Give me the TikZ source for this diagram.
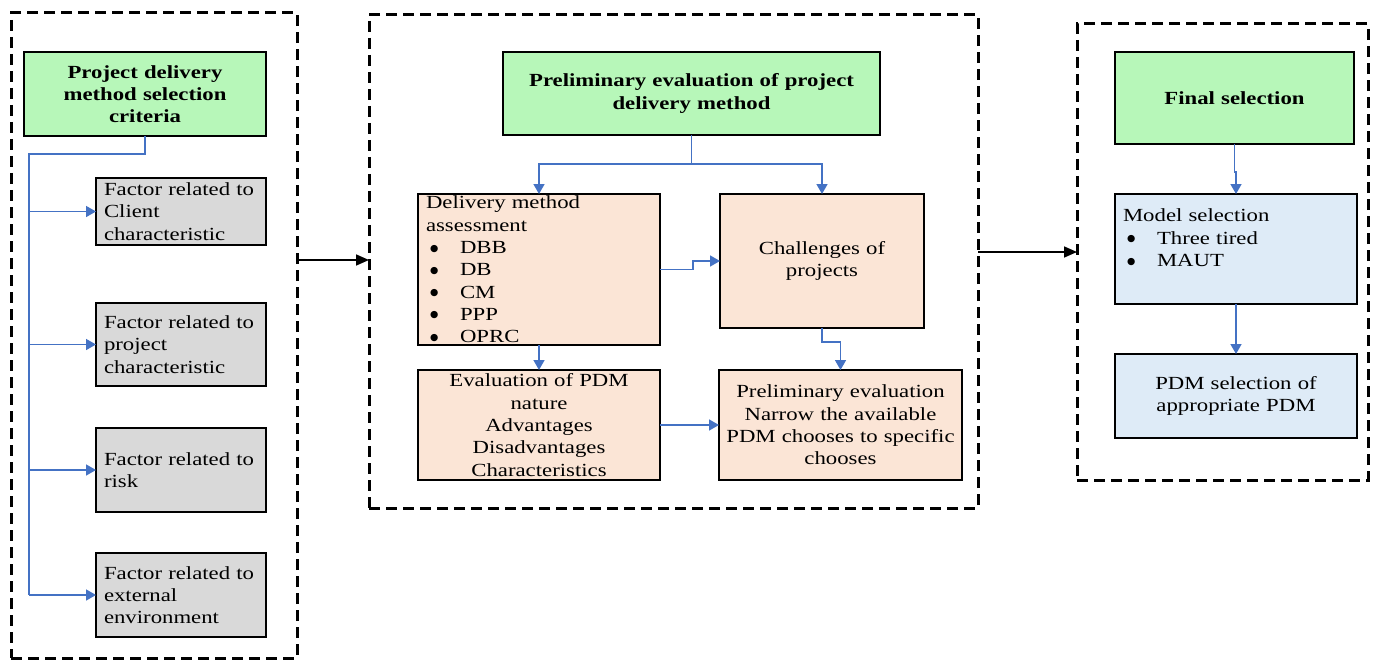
\documentclass[tikz,border=0pt]{standalone}
\usepackage{fontspec}
\setmainfont[FakeStretch=1.23]{Liberation Serif}
\newfontfamily\dotfont{DejaVu Sans}
\usetikzlibrary{arrows.meta}

\definecolor{boxgreen}{HTML}{B7F7B9}
\definecolor{boxgrey}{HTML}{D9D9D9}
\definecolor{boxpeach}{HTML}{FBE5D6}
\definecolor{boxblue}{HTML}{DEEBF7}
\definecolor{linkblue}{HTML}{4472C4}

\newcommand\diagfont{\fontsize{18.5bp}{22.3bp}\selectfont}
\newcommand\pdmbullet{\makebox[34bp][l]{\hspace{4bp}\raisebox{2.5bp}{\dotfont\fontsize{9.5bp}{9.5bp}\selectfont ●}}}

\tikzset{
  frame/.style={draw=black, line width=3bp, dash pattern=on 11bp off 6bp,
    inner sep=0pt, outer sep=0pt, anchor=north west},
  basebox/.style={draw=black, line width=1.8bp, inner ysep=0pt, inner xsep=8bp,
    outer sep=0pt, anchor=north west, font=\diagfont},
  headbox/.style={basebox, fill=boxgreen, align=center, font=\diagfont\bfseries},
  factorbox/.style={basebox, fill=boxgrey, align=left},
  stagebox/.style={basebox, fill=boxpeach},
  modelbox/.style={basebox, fill=boxblue},
  link/.style={draw=linkblue, line width=1.6bp},
  linkarrow/.style={link, -{Triangle[length=10bp,width=11bp]}},
  phasearrow/.style={draw=black, line width=1.6bp, -{Triangle[length=13bp,width=11bp]}}
}

\begin{document}
\begin{tikzpicture}[x=1bp,y=-1bp]
\useasboundingbox (0,0) rectangle (1376,660);

% three dashed phase frames
\node[frame, minimum width=286bp, minimum height=645bp] (f1) at (11,13) {};
\node[frame, minimum width=609bp, minimum height=493bp] (f2) at (369,15) {};
\node[frame, minimum width=291bp, minimum height=456bp] (f3) at (1077,24) {};

% phase 1: selection criteria
\node[headbox, minimum width=242bp, minimum height=84bp, text width=226bp] (g1) at (24,52)
  {Project delivery\\method selection\\criteria};
\node[factorbox, minimum width=170bp, minimum height=67bp, text width=154bp] (c1) at (96,178)
  {Factor related to\\Client\\characteristic};
\node[factorbox, minimum width=170bp, minimum height=83bp, text width=154bp] (c2) at (96,303)
  {Factor related to\\project\\characteristic};
\node[factorbox, minimum width=170bp, minimum height=84bp, text width=154bp] (c3) at (96,428)
  {Factor related to\\risk};
\node[factorbox, minimum width=170bp, minimum height=84bp, text width=154bp] (c4) at (96,553)
  {Factor related to\\external\\environment};

% phase 2: preliminary evaluation
\node[headbox, minimum width=377bp, minimum height=83bp, text width=361bp] (g2) at (503,52)
  {Preliminary evaluation of project\\delivery method};
\node[stagebox, align=left, minimum width=242bp, minimum height=151bp, text width=226bp] (dm) at (418,194)
  {Delivery method\\assessment\\\pdmbullet DBB\\\pdmbullet DB\\\pdmbullet CM\\\pdmbullet PPP\\\pdmbullet OPRC};
\node[stagebox, align=center, minimum width=204bp, minimum height=134bp, text width=188bp] (ch) at (720,194)
  {Challenges of\\projects};
\node[stagebox, align=center, minimum width=242bp, minimum height=110bp, text width=226bp] (ev) at (418,370)
  {Evaluation of PDM\\nature\\Advantages\\Disadvantages\\Characteristics};
\node[stagebox, align=center, minimum width=243bp, minimum height=110bp, text width=235bp, inner xsep=4bp] (pr) at (719,370)
  {Preliminary evaluation\\Narrow the available\\PDM chooses to specific\\chooses};

% phase 3: final selection
\node[headbox, minimum width=239bp, minimum height=92bp, text width=223bp] (g3) at (1115,52)
  {Final selection};
\node[modelbox, align=left, minimum width=242bp, minimum height=110bp, text width=226bp] (ms) at (1115,194)
  {Model selection\\\pdmbullet Three tired\\\pdmbullet MAUT\\\mbox{}};
\node[modelbox, align=center, minimum width=242bp, minimum height=84bp, text width=226bp] (pd) at (1115,354)
  {PDM selection of\\appropriate PDM};

% criteria tree
\coordinate (trunk) at (29,154);
\draw[link] (g1.south) |- (trunk) -- (trunk |- c4.west);
\foreach \c in {c1,c2,c3,c4}
  \draw[linkarrow] (trunk |- \c.west) -- (\c.west);

% evaluation links
\draw[link] (g2.south) -- ++(0,29) coordinate (split);
\draw[linkarrow] (split) -| (dm.north);
\draw[linkarrow] (split) -| (ch.north);
\draw[linkarrow] (dm.east) -- ++(33,0) |- (ch.west);
\draw[linkarrow] (dm.south) -- (ev.north);
\draw[linkarrow] (ch.south) -- ++(0,14) -| (pr.north);
\draw[linkarrow] (ev.east) -- (pr.west);

% final selection links
\draw[linkarrow] (g3.south) -- ++(0,28) -| (ms.north);
\draw[linkarrow] (ms.south) -- (pd.north);

% flow between phases
\coordinate (row1) at (0,260);
\coordinate (row2) at (0,252);
\draw[phasearrow] (f1.east |- row1) -- (f2.west |- row1);
\draw[phasearrow] (f2.east |- row2) -- (f3.west |- row2);
\end{tikzpicture}
\end{document}
